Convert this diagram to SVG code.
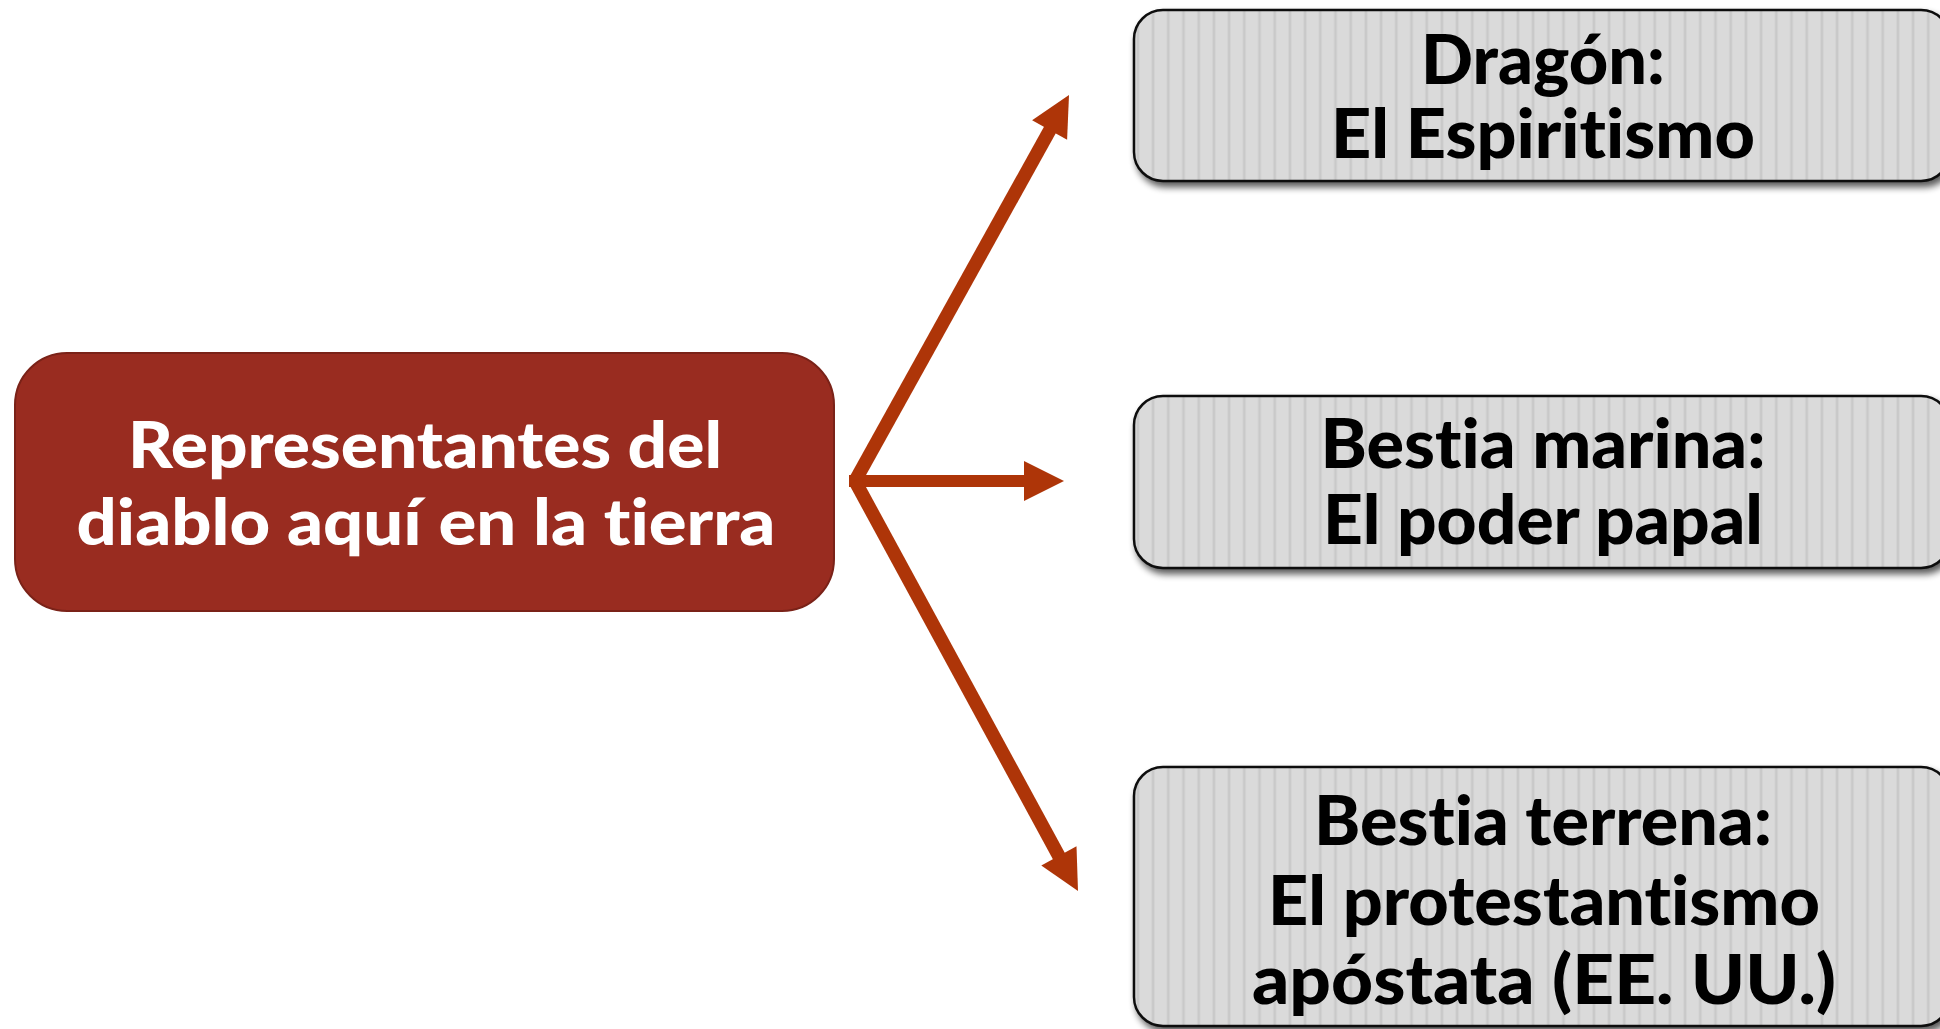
<svg xmlns="http://www.w3.org/2000/svg" width="1940" height="1029" viewBox="0 0 1940 1029">
  <defs>
    <pattern id="stripes" patternUnits="userSpaceOnUse" x="1136" y="0" width="15.2" height="20">
      <rect x="0" y="0" width="15.2" height="20" fill="#dadada"/>
      <rect x="0.6" y="0" width="2.6" height="20" fill="#c9c9c9"/>
    </pattern>
    <filter id="shadow" x="-5%" y="-10%" width="115%" height="130%">
      <feGaussianBlur in="SourceAlpha" stdDeviation="3.5"/>
      <feOffset dx="3" dy="5" result="b"/>
      <feComponentTransfer><feFuncA type="linear" slope="0.65"/></feComponentTransfer>
      <feMerge><feMergeNode/><feMergeNode in="SourceGraphic"/></feMerge>
    </filter>
  </defs>
  <style>
    .grey { fill: url(#stripes); stroke: #111; stroke-width: 2.5; }
    .gtext, .wtext { font-family: Lato, "Open Sans", "Liberation Sans", sans-serif; font-weight: 900; text-anchor: middle; font-variant-ligatures: none; font-feature-settings: "liga" 0, "clig" 0, "dlig" 0; }
    .gtext { fill: #000; }
    .wtext { fill: #fff; }
    .shaft { stroke: #ae3508; fill: none; stroke-linecap: butt; }
    .head { fill: #ae3508; }
  </style>

  <g id="connectors">
    <line class="shaft" x1="849" y1="481" x2="1028" y2="481" stroke-width="12"/>
    <polygon class="head" points="1064,481 1024,461 1024,501"/>
    <line class="shaft" x1="855" y1="481" x2="1051" y2="128" stroke-width="13.5"/>
    <polygon class="head" points="1069,95 1067.1,139.7 1032.1,120.3"/>
    <line class="shaft" x1="855" y1="481" x2="1061" y2="860" stroke-width="13.5"/>
    <polygon class="head" points="1078,891 1076.5,846.3 1041.3,865.5"/>
  </g>

  <g id="node-main">
    <rect x="15" y="353" width="819" height="258" rx="52" ry="52" fill="#992c20" stroke="#7a2218" stroke-width="2"/>
    <text class="wtext" font-size="64" x="425" y="468" textLength="594" lengthAdjust="spacingAndGlyphs">Representantes del</text>
    <text class="wtext" font-size="64" x="426" y="545" textLength="699" lengthAdjust="spacingAndGlyphs">diablo aquí en la tierra</text>
  </g>

  <g id="node-dragon">
    <rect class="grey" x="1134" y="10" width="816" height="171" rx="29" ry="29" filter="url(#shadow)"/>
    <text class="gtext" font-size="68" x="1543" y="84" textLength="244" lengthAdjust="spacingAndGlyphs">Dragón:</text>
    <text class="gtext" font-size="68" x="1543" y="158" textLength="424" lengthAdjust="spacingAndGlyphs">El Espiritismo</text>
  </g>

  <g id="node-bestia-marina">
    <rect class="grey" x="1134" y="396" width="816" height="172" rx="29" ry="29" filter="url(#shadow)"/>
    <text class="gtext" font-size="68" x="1543" y="468" textLength="445" lengthAdjust="spacingAndGlyphs">Bestia marina:</text>
    <text class="gtext" font-size="68" x="1543" y="544" textLength="440" lengthAdjust="spacingAndGlyphs">El poder papal</text>
  </g>

  <g id="node-bestia-terrena">
    <rect class="grey" x="1134" y="767" width="816" height="259" rx="29" ry="29" filter="url(#shadow)"/>
    <text class="gtext" font-size="68" x="1543" y="845" textLength="458" lengthAdjust="spacingAndGlyphs">Bestia terrena:</text>
    <text class="gtext" font-size="68" x="1544" y="925" textLength="552" lengthAdjust="spacingAndGlyphs">El protestantismo</text>
    <text class="gtext" font-size="68" x="1544" y="1004" textLength="584" lengthAdjust="spacingAndGlyphs">apóstata (EE. UU.)</text>
  </g>
</svg>
